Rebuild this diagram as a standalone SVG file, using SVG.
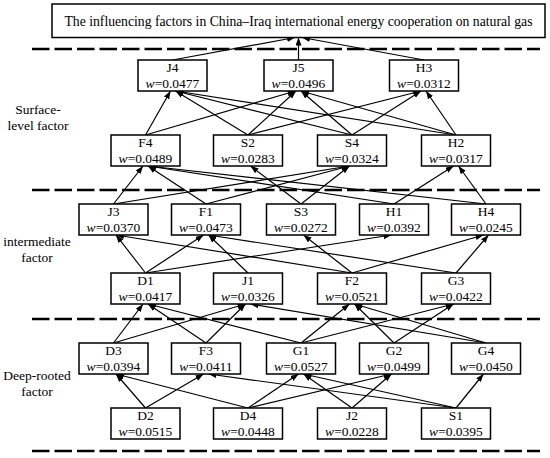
<svg xmlns="http://www.w3.org/2000/svg" width="550" height="458" viewBox="0 0 550 458">
<style>
text{font-family:"Liberation Serif","Times New Roman",serif;font-size:13.5px;fill:#000}
.n{text-anchor:middle}
.t{font-size:13.7px}
.side{font-size:13.5px;text-anchor:middle}
.box{fill:#fff;stroke:#000;stroke-width:1.5}
.dash{stroke:#000;stroke-width:2.5;stroke-dasharray:17.5 5}
#edges line{stroke:#000;stroke-width:1.2;marker-end:url(#ah)}
.i{font-style:italic}
</style>
<defs>
<marker id="ah" markerUnits="userSpaceOnUse" markerWidth="9" markerHeight="7" refX="8" refY="3" orient="auto">
<path d="M0,0 L8,3 L0,6 z" fill="#000"/>
</marker>
</defs>
<rect width="550" height="458" fill="#fff"/>
<g id="dividers">
<line class="dash" x1="32" y1="49" x2="540" y2="49"/>
<line class="dash" x1="32" y1="190" x2="540" y2="190"/>
<line class="dash" x1="32" y1="319" x2="540" y2="319"/>
<line class="dash" x1="32" y1="451" x2="540" y2="451"/>
</g>
<g id="side-labels">
<text class="side" x="38" y="114">Surface-</text>
<text class="side" x="38" y="130">level factor</text>
<text class="side" x="37" y="246">intermediate</text>
<text class="side" x="37" y="262">factor</text>
<text class="side" x="37" y="380">Deep-rooted</text>
<text class="side" x="37" y="396">factor</text>
</g>
<g id="edges">
<line x1="172.5" y1="60" x2="295" y2="37.5"/>
<line x1="298.5" y1="60" x2="298.5" y2="37.5"/>
<line x1="424" y1="60" x2="302" y2="37.5"/>
<line x1="145.5" y1="135" x2="170.5" y2="91"/>
<line x1="145.5" y1="135" x2="295.5" y2="91"/>
<line x1="248" y1="135" x2="175.5" y2="91"/>
<line x1="248" y1="135" x2="296" y2="91"/>
<line x1="248" y1="135" x2="421" y2="91"/>
<line x1="352" y1="135" x2="175.5" y2="91"/>
<line x1="352" y1="135" x2="301" y2="91"/>
<line x1="352" y1="135" x2="421" y2="91"/>
<line x1="456" y1="135" x2="175.5" y2="91"/>
<line x1="456" y1="135" x2="301" y2="91"/>
<line x1="456" y1="135" x2="426" y2="91"/>
<line x1="113.5" y1="204" x2="143" y2="166"/>
<line x1="113.5" y1="204" x2="349.5" y2="166"/>
<line x1="206" y1="204" x2="148" y2="166"/>
<line x1="206" y1="204" x2="349.5" y2="166"/>
<line x1="301" y1="204" x2="250.5" y2="166"/>
<line x1="301" y1="204" x2="349.5" y2="166"/>
<line x1="394" y1="204" x2="148" y2="166"/>
<line x1="394" y1="204" x2="453.5" y2="166"/>
<line x1="486" y1="204" x2="148" y2="166"/>
<line x1="486" y1="204" x2="458.5" y2="166"/>
<line x1="145.5" y1="273" x2="116" y2="235"/>
<line x1="145.5" y1="273" x2="203.5" y2="235"/>
<line x1="145.5" y1="273" x2="391.5" y2="235"/>
<line x1="248" y1="273" x2="208.5" y2="235"/>
<line x1="352" y1="273" x2="116" y2="235"/>
<line x1="352" y1="273" x2="303.5" y2="235"/>
<line x1="352" y1="273" x2="483.5" y2="235"/>
<line x1="456" y1="273" x2="208.5" y2="235"/>
<line x1="456" y1="273" x2="488.5" y2="235"/>
<line x1="113.5" y1="343" x2="143" y2="304"/>
<line x1="113.5" y1="343" x2="245.5" y2="304"/>
<line x1="206" y1="343" x2="148" y2="304"/>
<line x1="206" y1="343" x2="245.5" y2="304"/>
<line x1="301" y1="343" x2="148" y2="304"/>
<line x1="301" y1="343" x2="349.5" y2="304"/>
<line x1="301" y1="343" x2="453.5" y2="304"/>
<line x1="394" y1="343" x2="354.5" y2="304"/>
<line x1="394" y1="343" x2="453.5" y2="304"/>
<line x1="486" y1="343" x2="250.5" y2="304"/>
<line x1="486" y1="343" x2="354.5" y2="304"/>
<line x1="145.5" y1="408" x2="116" y2="374"/>
<line x1="145.5" y1="408" x2="203.5" y2="374"/>
<line x1="248" y1="408" x2="116" y2="374"/>
<line x1="248" y1="408" x2="298.5" y2="374"/>
<line x1="248" y1="408" x2="391.5" y2="374"/>
<line x1="352" y1="408" x2="303.5" y2="374"/>
<line x1="352" y1="408" x2="391.5" y2="374"/>
<line x1="456" y1="408" x2="208.5" y2="374"/>
<line x1="456" y1="408" x2="303.5" y2="374"/>
<line x1="456" y1="408" x2="483.5" y2="374"/>
</g>
<g id="title"><rect class="box" x="52" y="4" width="493" height="33.5"/><text class="n t" x="298.5" y="25.5">The influencing factors in China–Iraq international energy cooperation on natural gas</text></g>
<g id="J4"><rect class="box" x="138" y="60" width="69" height="31"/><text class="n" x="172.5" y="72">J4</text><text class="n" x="172.5" y="88"><tspan class="i">w</tspan>=0.0477</text></g>
<g id="J5"><rect class="box" x="264" y="60" width="69" height="31"/><text class="n" x="298.5" y="72">J5</text><text class="n" x="298.5" y="88"><tspan class="i">w</tspan>=0.0496</text></g>
<g id="H3"><rect class="box" x="389.5" y="60" width="69" height="31"/><text class="n" x="424" y="72">H3</text><text class="n" x="424" y="88"><tspan class="i">w</tspan>=0.0312</text></g>
<g id="F4"><rect class="box" x="111" y="135" width="69" height="31"/><text class="n" x="145.5" y="147">F4</text><text class="n" x="145.5" y="163"><tspan class="i">w</tspan>=0.0489</text></g>
<g id="S2"><rect class="box" x="213.5" y="135" width="69" height="31"/><text class="n" x="248" y="147">S2</text><text class="n" x="248" y="163"><tspan class="i">w</tspan>=0.0283</text></g>
<g id="S4"><rect class="box" x="317.5" y="135" width="69" height="31"/><text class="n" x="352" y="147">S4</text><text class="n" x="352" y="163"><tspan class="i">w</tspan>=0.0324</text></g>
<g id="H2"><rect class="box" x="421.5" y="135" width="69" height="31"/><text class="n" x="456" y="147">H2</text><text class="n" x="456" y="163"><tspan class="i">w</tspan>=0.0317</text></g>
<g id="J3"><rect class="box" x="79" y="204" width="69" height="31"/><text class="n" x="113.5" y="216">J3</text><text class="n" x="113.5" y="232"><tspan class="i">w</tspan>=0.0370</text></g>
<g id="F1"><rect class="box" x="171.5" y="204" width="69" height="31"/><text class="n" x="206" y="216">F1</text><text class="n" x="206" y="232"><tspan class="i">w</tspan>=0.0473</text></g>
<g id="S3"><rect class="box" x="266.5" y="204" width="69" height="31"/><text class="n" x="301" y="216">S3</text><text class="n" x="301" y="232"><tspan class="i">w</tspan>=0.0272</text></g>
<g id="H1"><rect class="box" x="359.5" y="204" width="69" height="31"/><text class="n" x="394" y="216">H1</text><text class="n" x="394" y="232"><tspan class="i">w</tspan>=0.0392</text></g>
<g id="H4"><rect class="box" x="451.5" y="204" width="69" height="31"/><text class="n" x="486" y="216">H4</text><text class="n" x="486" y="232"><tspan class="i">w</tspan>=0.0245</text></g>
<g id="D1"><rect class="box" x="111" y="273" width="69" height="31"/><text class="n" x="145.5" y="285">D1</text><text class="n" x="145.5" y="301"><tspan class="i">w</tspan>=0.0417</text></g>
<g id="J1"><rect class="box" x="213.5" y="273" width="69" height="31"/><text class="n" x="248" y="285">J1</text><text class="n" x="248" y="301"><tspan class="i">w</tspan>=0.0326</text></g>
<g id="F2"><rect class="box" x="317.5" y="273" width="69" height="31"/><text class="n" x="352" y="285">F2</text><text class="n" x="352" y="301"><tspan class="i">w</tspan>=0.0521</text></g>
<g id="G3"><rect class="box" x="421.5" y="273" width="69" height="31"/><text class="n" x="456" y="285">G3</text><text class="n" x="456" y="301"><tspan class="i">w</tspan>=0.0422</text></g>
<g id="D3"><rect class="box" x="79" y="343" width="69" height="31"/><text class="n" x="113.5" y="355">D3</text><text class="n" x="113.5" y="371"><tspan class="i">w</tspan>=0.0394</text></g>
<g id="F3"><rect class="box" x="171.5" y="343" width="69" height="31"/><text class="n" x="206" y="355">F3</text><text class="n" x="206" y="371"><tspan class="i">w</tspan>=0.0411</text></g>
<g id="G1"><rect class="box" x="266.5" y="343" width="69" height="31"/><text class="n" x="301" y="355">G1</text><text class="n" x="301" y="371"><tspan class="i">w</tspan>=0.0527</text></g>
<g id="G2"><rect class="box" x="359.5" y="343" width="69" height="31"/><text class="n" x="394" y="355">G2</text><text class="n" x="394" y="371"><tspan class="i">w</tspan>=0.0499</text></g>
<g id="G4"><rect class="box" x="451.5" y="343" width="69" height="31"/><text class="n" x="486" y="355">G4</text><text class="n" x="486" y="371"><tspan class="i">w</tspan>=0.0450</text></g>
<g id="D2"><rect class="box" x="111" y="408" width="69" height="31"/><text class="n" x="145.5" y="420">D2</text><text class="n" x="145.5" y="436"><tspan class="i">w</tspan>=0.0515</text></g>
<g id="D4"><rect class="box" x="213.5" y="408" width="69" height="31"/><text class="n" x="248" y="420">D4</text><text class="n" x="248" y="436"><tspan class="i">w</tspan>=0.0448</text></g>
<g id="J2"><rect class="box" x="317.5" y="408" width="69" height="31"/><text class="n" x="352" y="420">J2</text><text class="n" x="352" y="436"><tspan class="i">w</tspan>=0.0228</text></g>
<g id="S1"><rect class="box" x="421.5" y="408" width="69" height="31"/><text class="n" x="456" y="420">S1</text><text class="n" x="456" y="436"><tspan class="i">w</tspan>=0.0395</text></g>
</svg>
